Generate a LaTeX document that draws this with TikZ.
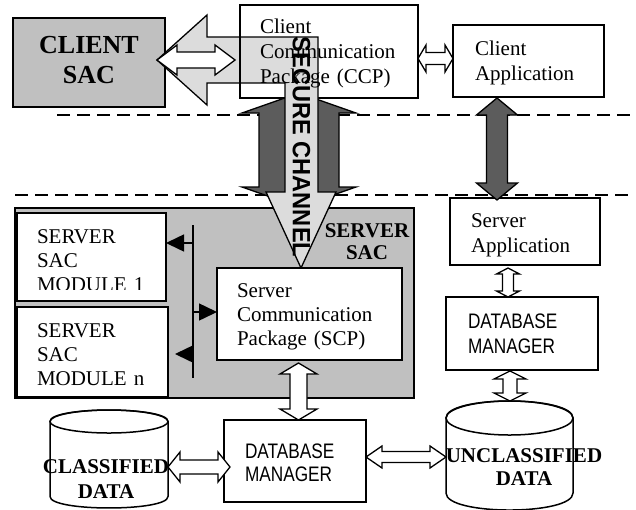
\documentclass[tikz,border=0pt]{standalone}
\usepackage{fontspec}
\usepackage{graphicx}
\setmainfont{Liberation Serif}
\newfontfamily\dbfont[FakeStretch=0.82]{Liberation Sans}
\newfontfamily\chfont{Liberation Sans}
\usetikzlibrary{calc,arrows.meta}
\definecolor{sacgray}{HTML}{C0C0C0}
\definecolor{lightarrow}{HTML}{DCDCDC}
\definecolor{darkarrow}{HTML}{5C5C5C}
\tikzset{
  box/.style={draw, line width=1.6pt, fill=white, inner sep=0pt, outer sep=0pt, anchor=north west},
  txt/.style={inner sep=0pt, outer sep=0pt, anchor=base west, text width=190pt, align=left, font=\fontsize{21}{25}\selectfont},
  ctxt/.style={inner sep=0pt, outer sep=0pt, anchor=base, text width=200pt, align=center},
  dbtxt/.style={txt, font=\dbfont\fontsize{21}{25}\selectfont},
  blockw/.style={draw, line width=1.3pt, fill=white, line join=miter},
  blockd/.style={draw, line width=1.3pt, fill=darkarrow, line join=miter},
  dashline/.style={line width=2pt, dash pattern=on 13pt off 7pt},
  bus/.style={line width=1.5pt},
  busarrow/.style={line width=1.5pt, -{Triangle[length=18pt,width=17pt]}},
  cyl/.style={draw, line width=1.5pt, fill=white},
  hdbl/.style n args={3}{to path={let \p1=(\tikztostart), \p2=(\tikztotarget) in
    (\x1,\y1) -- (\x1+#3,\y1+#2) -- (\x1+#3,\y1+#1) -- (\x2-#3,\y1+#1) -- (\x2-#3,\y1+#2) -- (\x2,\y1)
    -- (\x2-#3,\y1-#2) -- (\x2-#3,\y1-#1) -- (\x1+#3,\y1-#1) -- (\x1+#3,\y1-#2) -- cycle}},
  vdbl/.style n args={3}{to path={let \p1=(\tikztostart), \p2=(\tikztotarget) in
    (\x1,\y1) -- (\x1+#2,\y1-#3) -- (\x1+#1,\y1-#3) -- (\x1+#1,\y2+#3) -- (\x1+#2,\y2+#3) -- (\x1,\y2)
    -- (\x1-#2,\y2+#3) -- (\x1-#1,\y2+#3) -- (\x1-#1,\y1-#3) -- (\x1-#2,\y1-#3) -- cycle}},
}
\begin{document}
\begin{tikzpicture}[x=1pt, y=-1pt]
\useasboundingbox (0,0) rectangle (636,509);

% dashed separators
\draw[dashline] (57,115) -- (632,115);
\draw[dashline] (15,195) -- (632,195);

% boxes
\node[box, fill=sacgray, minimum width=399pt, minimum height=190pt] (ssac) at (15,208) {};
\node[box, fill=sacgray, minimum width=152pt, minimum height=89pt] (csac) at (13,18) {};
\node[box, minimum width=178pt, minimum height=93pt] (ccp) at (240,5) {};
\node[box, minimum width=151pt, minimum height=72pt] (capp) at (453,25) {};

% big dark double arrow (client side <-> server side)
\draw[blockd] ($(ccp.south)+(-30,-5)$) to[vdbl={40}{57}{20}] ($(ssac.north)+(84.5,-1)$);

% secure channel (light L-shaped arrow)
\draw[line width=1.3pt, fill=lightarrow, line join=miter]
  (157,60) -- (207,15) -- (207,37) -- (318,37) -- (318,192) -- (336,192) -- (301,268)
  -- (266,192) -- (285,192) -- (285,83) -- (207,83) -- (207,105) -- cycle;

\draw[line width=1.6pt] (ccp.north west) -- (ccp.south west);
\node[txt] (ccpt) at (260,33) {Client\\Communication\\Package (CCP)};

\draw[blockw] ($(csac.east)+(-8,-2.5)$) to[hdbl={8}{15}{20}] ($(ccp.west)+(-5,8.5)$);

\node[rotate=-90, inner sep=0pt, font=\chfont\bfseries\fontsize{25}{25}\selectfont] (sc) at (301.5,147)
  {\scalebox{0.945}[1]{SECURE CHANNEL}};

\node[ctxt, text width=150pt, font=\bfseries\fontsize{26}{30}\selectfont] (csact) at (89,53) {CLIENT\\SAC};
\node[txt] (cappt) at (475,55) {Client\\Application};

\draw[blockw] ($(ccp.east)+(0,7)$) to[hdbl={6}{13.5}{8}] (capp.west);

% server application side
\node[box, minimum width=150pt, minimum height=67pt] (sapp) at (450,198) {};
\node[txt] (sappt) at (471,227) {Server\\Application};
\draw[blockd] ($(capp.south)+(-31.5,1)$) to[vdbl={10.5}{20.5}{17}] ($(sapp.north)+(-28,2)$);

\node[box, minimum width=152pt, minimum height=73pt] (dbr) at (446,297) {};
\node[dbtxt] (dbrt) at (468,328) {DATABASE\\MANAGER};
\draw[blockw] ($(sapp.south)+(-17,3)$) to[vdbl={5.5}{11.5}{6}] ($(dbr.north)+(-14,0)$);

% server SAC internals
\node[ctxt, text width=100pt, font=\bfseries\fontsize{21}{22}\selectfont] (ssact) at (367,237) {SERVER\\SAC};
\node[box, minimum width=149pt, minimum height=88pt] (mod1) at (17,213) {};
\node[box, minimum width=151pt, minimum height=90pt] (modn) at (17,307) {};
\node[box, minimum width=185pt, minimum height=92pt] (scp) at (217,268) {};
\begin{scope}
  \clip (17,213) rectangle (166,289);
  \node[txt, font=\fontsize{21}{24}\selectfont] (mod1t) at (37,243) {SERVER\\SAC\\MODULE 1};
\end{scope}
\node[txt, font=\fontsize{21}{24}\selectfont] (modnt) at (37,337) {SERVER\\SAC\\MODULE n};
\node[txt, font=\fontsize{21}{24}\selectfont] (scpt) at (237,297) {Server\\Communication\\Package (SCP)};

\coordinate (bustop) at (193,225);
\coordinate (busbot) at (193,378);
\draw[bus] (bustop) -- (busbot);
\coordinate (b1) at (193,243);
\coordinate (b2) at (193,312);
\coordinate (b3) at (193,354);
\draw[busarrow] (b1) -- (b1 -| mod1.east);
\draw[busarrow] (b2) -- (b2 -| scp.west);
\draw[busarrow] (b3) -- ($(b3 -| modn.east)+(7,0)$);

% databases
\draw[cyl] (50,421.5) -- (50,496.5) .. controls (50,511.8) and (168,511.8) .. (168,496.5)
  -- (168,421.5) .. controls (168,406.2) and (50,406.2) .. (50,421.5) -- cycle;
\draw[line width=1.5pt] (109,421.5) ellipse [x radius=59, y radius=11.5];
\coordinate (ccyl) at (168,467);

\draw[cyl] (446,418) -- (446,493) .. controls (446,515.7) and (573,515.7) .. (573,493)
  -- (573,418) .. controls (573,395.3) and (446,395.3) .. (446,418) -- cycle;
\draw[line width=1.5pt] (509.5,418) ellipse [x radius=63.5, y radius=17];
\coordinate (ucyltop) at (510,401);
\coordinate (ucylw) at (446,457);

\node[box, minimum width=142pt, minimum height=82pt] (dbb) at (224,420) {};
\node[dbtxt, font=\dbfont\fontsize{21}{23}\selectfont] (dbbt) at (245,458) {DATABASE\\MANAGER};

\node[ctxt, text width=160pt, font=\bfseries\fontsize{21}{25}\selectfont] (ccylt) at (106,473) {CLASSIFIED\\DATA};
\node[ctxt, text width=180pt, font=\bfseries\fontsize{21}{23}\selectfont] (ucylt) at (524,462) {UNCLASSIFIED\\DATA};

\draw[blockw] ($(dbr.south)+(-12,1)$) to[vdbl={7}{16}{8}] (ucyltop);
\draw[blockw] ($(scp.south)+(-11,3)$) to[vdbl={8.5}{18.5}{11}] ($(dbb.north)+(3.5,0)$);
\draw[blockw] (ccyl) to[hdbl={7}{15}{12}] ($(dbb.west)+(6,6)$);
\draw[blockw] ($(dbb.east)+(0,-4)$) to[hdbl={5.5}{11}{16}] (ucylw);
\end{tikzpicture}
\end{document}
